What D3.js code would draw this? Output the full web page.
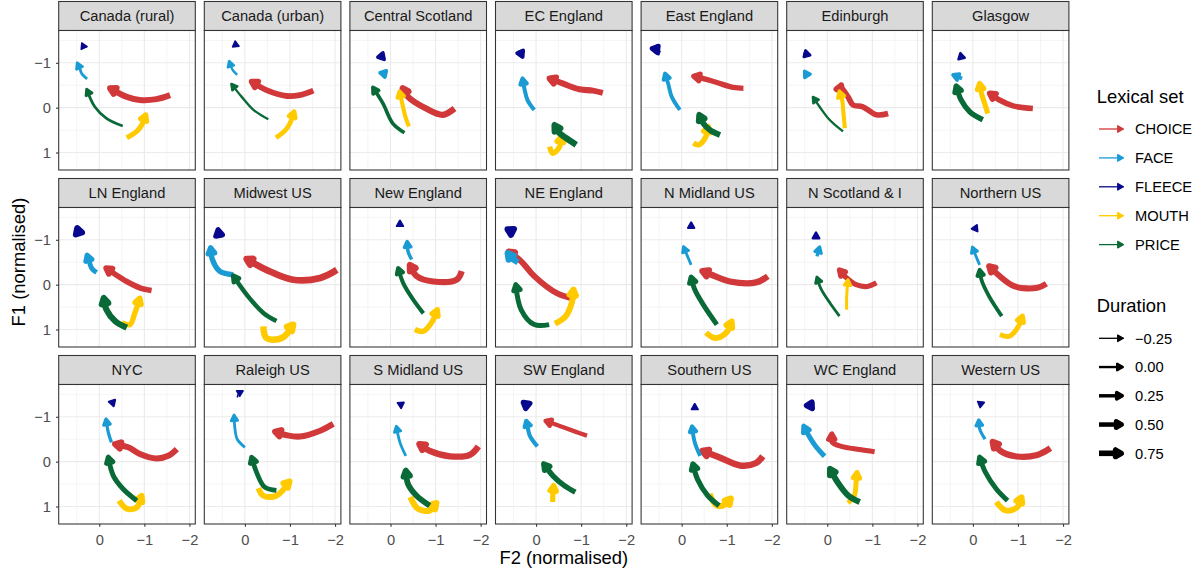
<!DOCTYPE html>
<html>
<head>
<meta charset="utf-8">
<script src="https://cdn.jsdelivr.net/npm/d3@7"></script>
<style>
    body { margin: 0; background: #fff; }
    svg { display: block; font-family: "Liberation Sans", Arial, Helvetica, sans-serif; }
</style>
</head>
<body>
<svg id="chart" width="1203" height="572"></svg>
<script>
// regions, in facet order
var regions = ["Canada (rural)", "Canada (urban)", "Central Scotland", "EC England", "East England", "Edinburgh", "Glasgow",
    "LN England", "Midwest US", "New England", "NE England", "N Midland US", "N Scotland & I", "Northern US",
    "NYC", "Raleigh US", "S Midland US", "SW England", "Southern US", "WC England", "Western US"];

var lexicalSets = ["CHOICE", "FACE", "FLEECE", "MOUTH", "PRICE"];
var durationBreaks = [-0.25, 0, 0.25, 0.5, 0.75];
var f2Ticks = [0, -1, -2];
var f1Ticks = [-1, 0, 1];

// trajectories as [F2, F1] points, start -> end, one per region
var choice = [
    [[-1.57, -0.28], [-1.27, -0.19], [-0.9, -0.17], [-0.61, -0.24], [-0.24, -0.43]],
    [[-1.52, -0.38], [-1.22, -0.28], [-0.93, -0.26], [-0.48, -0.39], [-0.15, -0.58]],
    [[-1.42, 0.02], [-1.16, 0.16], [-0.79, 0.02], [-0.39, -0.24], [-0.27, -0.43]],
    [[-1.48, -0.33], [-1.26, -0.38], [-0.96, -0.41], [-0.59, -0.54], [-0.3, -0.65]],
    [[-1.37, -0.43], [-1.15, -0.45], [-0.78, -0.56], [-0.41, -0.67], [-0.27, -0.7]],
    [[-1.35, 0.13], [-1.09, 0.16], [-0.79, -0.02], [-0.57, -0.06], [-0.46, -0.24], [-0.31, -0.43], [-0.2, -0.41]],
    [[-1.33, 0.02], [-0.89, -0.04], [-0.59, -0.17], [-0.37, -0.32]],
    [[-1.16, 0.13], [-0.9, 0.07], [-0.61, -0.07], [-0.31, -0.26], [-0.15, -0.37]],
    [[-2.04, -0.33], [-1.67, -0.15], [-1.07, -0.11], [-0.48, -0.33], [-0.04, -0.57]],
    [[-1.58, -0.3], [-1.47, -0.11], [-0.95, -0.07], [-0.58, -0.19], [-0.43, -0.44]],
    [[-0.87, 0.32], [-0.46, 0.19], [0.04, -0.19], [0.33, -0.52], [0.61, -0.74]],
    [[-1.91, -0.19], [-1.65, -0.05], [-1.07, -0.07], [-0.66, -0.22], [-0.46, -0.3]],
    [[-1.09, -0.04], [-0.89, 0.04], [-0.64, 0], [-0.43, -0.15], [-0.27, -0.33]],
    [[-1.63, -0.02], [-1.43, 0.07], [-0.93, 0.04], [-0.56, -0.22], [-0.36, -0.41]],
    [[-1.72, -0.28], [-1.53, -0.13], [-1.27, -0.07], [-0.9, -0.17], [-0.64, -0.32], [-0.35, -0.39]],
    [[-1.96, -0.84], [-1.67, -0.69], [-1.22, -0.56], [-0.93, -0.59], [-0.67, -0.67]],
    [[-1.95, -0.34], [-1.76, -0.15], [-1.32, -0.12], [-0.87, -0.24], [-0.64, -0.39]],
    [[-1.13, -0.58], [-0.87, -0.67], [-0.54, -0.79], [-0.21, -0.91]],
    [[-1.8, -0.12], [-1.65, 0.03], [-1.32, 0.09], [-0.83, -0.1], [-0.46, -0.24]],
    [[-1.05, -0.22], [-0.72, -0.27], [-0.31, -0.34], [-0.1, -0.44], [-0.1, -0.62]],
    [[-1.72, -0.3], [-1.43, -0.15], [-0.94, -0.12], [-0.61, -0.24], [-0.44, -0.44]]
];
var choiceDuration = [0.85, 0.8, 0.9, 0.85, 0.7, 0.75, 0.75, 0.75, 1.0, 0.9, 0.85, 0.9, 0.65, 0.85, 0.85, 0.85, 0.9, 0.45, 0.95, 0.6, 0.9];

var face = [
    [[0.27, -0.64], [0.39, -0.76], [0.43, -0.87], [0.49, -1.0]],
    [[0.17, -0.73], [0.27, -0.84], [0.32, -0.95], [0.35, -1.04]],
    [[0.1, -0.75], [0.23, -0.78]],
    [[0.04, 0.05], [0.19, -0.17], [0.26, -0.43], [0.3, -0.65]],
    [[0.04, 0.05], [0.22, -0.24], [0.3, -0.54], [0.37, -0.76]],
    [[0.43, -0.8], [0.5, -0.67]],
    [[0.24, -0.65], [0.44, -0.73]],
    [[0.06, -0.27], [0.17, -0.37], [0.22, -0.51], [0.27, -0.66]],
    [[0.26, -0.22], [0.56, -0.3], [0.72, -0.56], [0.76, -0.82]],
    [[-0.47, -0.56], [-0.39, -0.74], [-0.37, -0.96]],
    [[0.4, -0.5], [0.55, -0.6], [0.63, -0.7]],
    [[-0.21, -0.44], [-0.13, -0.63], [-0.04, -0.85]],
    [[0.23, -0.63], [0.17, -0.84]],
    [[-0.15, -0.44], [-0.07, -0.63], [0.01, -0.84]],
    [[-0.27, -0.43], [-0.2, -0.65], [-0.15, -0.95]],
    [[0, -0.32], [0.17, -0.5], [0.22, -0.73], [0.24, -1.04]],
    [[-0.34, -0.13], [-0.21, -0.43], [-0.13, -0.79]],
    [[-0.03, -0.34], [0.14, -0.58], [0.2, -0.84], [0.22, -0.91]],
    [[-0.41, -0.13], [-0.29, -0.43], [-0.23, -0.79]],
    [[0.06, -0.12], [0.27, -0.36], [0.45, -0.65], [0.52, -0.79]],
    [[-0.27, -0.5], [-0.15, -0.73], [-0.13, -0.93]]
];
var faceDuration = [0.1, 0.0, 0.3, 0.4, 0.35, 0.2, 0.3, 0.6, 0.7, 0.25, 0.9, 0.1, 0.2, 0.1, 0.2, 0.1, 0.1, 0.4, 0.35, 0.6, 0.2];

var fleece = [
    [[0.39, -1.37], [0.27, -1.36]],
    [[0.22, -1.41], [0.13, -1.37]],
    [[0.21, -1.1], [0.17, -1.22]],
    [[0.37, -1.28], [0.3, -1.13]],
    [[0.48, -1.21], [0.59, -1.28], [0.52, -1.37]],
    [[0.53, -1.21], [0.38, -1.17]],
    [[0.31, -1.15], [0.18, -1.11]],
    [[0.44, -1.11], [0.49, -1.26]],
    [[0.64, -1.16], [0.5, -1.11]],
    [[-0.21, -1.33], [-0.21, -1.43]],
    [[0.63, -1.15], [0.49, -1.24]],
    [[-0.21, -1.28], [-0.21, -1.39]],
    [[0.25, -1.05], [0.25, -1.16]],
    [[-0.04, -1.22], [-0.09, -1.33]],
    [[-0.27, -1.29], [-0.35, -1.38]],
    [[0.17, -1.43], [0.13, -1.53], [0.04, -1.58]],
    [[-0.24, -1.19], [-0.24, -1.28], [-0.3, -1.32]],
    [[0.24, -1.26], [0.14, -1.3]],
    [[-0.29, -1.19], [-0.29, -1.29]],
    [[0.39, -1.23], [0.34, -1.33]],
    [[-0.15, -1.28], [-0.25, -1.32]]
];
var fleeceDuration = [-0.2, -0.2, 0.3, 0.35, 0.6, 0.1, 0.0, 0.85, 0.7, -0.1, 0.85, -0.1, 0.0, -0.1, -0.05, -0.2, -0.15, 0.7, -0.15, 0.7, -0.15];

var mouth = [
    [[-0.61, 0.67], [-0.83, 0.53], [-0.94, 0.39], [-1.03, 0.16]],
    [[-0.69, 0.67], [-0.89, 0.51], [-1.0, 0.35], [-1.09, 0.09]],
    [[-0.41, 0.42], [-0.33, 0.2], [-0.26, -0.1], [-0.2, -0.36]],
    [[-0.3, 0.87], [-0.37, 1.02], [-0.52, 0.87], [-0.56, 0.64]],
    [[-0.26, 0.79], [-0.37, 0.83], [-0.52, 0.68], [-0.59, 0.42]],
    [[-0.39, 0.46], [-0.36, 0.13], [-0.33, -0.17], [-0.27, -0.36]],
    [[-0.33, 0.13], [-0.26, -0.1], [-0.19, -0.32], [-0.15, -0.54]],
    [[-0.5, 0.85], [-0.68, 0.89], [-0.79, 0.63], [-0.9, 0.3]],
    [[-0.41, 0.93], [-0.48, 1.19], [-0.82, 1.19], [-1.07, 0.89]],
    [[-0.54, 1.0], [-0.73, 1.04], [-0.91, 0.85], [-1.04, 0.56]],
    [[-0.42, 0.87], [-0.66, 0.7], [-0.79, 0.41], [-0.83, 0.11]],
    [[-0.54, 1.07], [-0.74, 1.19], [-0.99, 1.07], [-1.11, 0.82]],
    [[-0.43, 0.56], [-0.43, 0.26], [-0.46, -0.11]],
    [[-0.6, 1.11], [-0.81, 1.15], [-1.01, 0.93], [-1.1, 0.7]],
    [[-0.44, 0.87], [-0.61, 1.05], [-0.83, 1.02], [-0.94, 0.76]],
    [[-0.3, 0.59], [-0.41, 0.76], [-0.7, 0.76], [-0.99, 0.44]],
    [[-0.44, 0.79], [-0.61, 1.05], [-0.87, 1.09], [-1.02, 0.92]],
    [[-0.37, 0.9], [-0.37, 0.76], [-0.39, 0.53]],
    [[-0.62, 0.72], [-0.78, 0.98], [-0.99, 0.94], [-1.09, 0.82]],
    [[-0.46, 0.92], [-0.6, 0.76], [-0.64, 0.46], [-0.66, 0.24]],
    [[-0.52, 0.9], [-0.73, 1.09], [-0.98, 1.02], [-1.08, 0.79]]
];
var mouthDuration = [0.65, 0.55, 0.4, 0.7, 0.7, 0.4, 0.65, 0.7, 0.95, 0.7, 0.85, 0.8, 0.15, 0.6, 0.8, 0.8, 0.85, 0.65, 0.85, 0.6, 0.8];

var price = [
    [[-0.52, 0.41], [-0.16, 0.24], [0.1, -0.02], [0.28, -0.41]],
    [[-0.52, 0.26], [-0.19, 0.05], [0.07, -0.24], [0.3, -0.53]],
    [[-0.31, 0.56], [-0.05, 0.35], [0.17, -0.1], [0.39, -0.45]],
    [[-0.89, 0.83], [-0.67, 0.68], [-0.52, 0.57], [-0.41, 0.39]],
    [[-0.85, 0.61], [-0.63, 0.5], [-0.48, 0.35], [-0.39, 0.16]],
    [[-0.35, 0.53], [-0.05, 0.27], [0.17, -0.02], [0.32, -0.24]],
    [[-0.22, 0.27], [0.07, 0.09], [0.26, -0.17], [0.37, -0.48]],
    [[-0.61, 0.96], [-0.35, 0.81], [-0.16, 0.56], [-0.1, 0.3]],
    [[-0.7, 0.81], [-0.41, 0.63], [-0.07, 0.26], [0.26, -0.2]],
    [[-0.73, 0.64], [-0.5, 0.33], [-0.28, -0.04], [-0.17, -0.37]],
    [[-0.29, 0.89], [0.04, 0.89], [0.33, 0.56], [0.45, 0]],
    [[-0.78, 0.89], [-0.5, 0.48], [-0.29, 0.11], [-0.21, -0.17]],
    [[-0.27, 0.7], [-0.06, 0.41], [0.15, 0.07], [0.23, -0.17]],
    [[-0.64, 0.7], [-0.36, 0.26], [-0.19, -0.11], [-0.15, -0.33]],
    [[-0.83, 0.87], [-0.53, 0.61], [-0.31, 0.31], [-0.2, -0.1]],
    [[-0.7, 0.64], [-0.44, 0.57], [-0.26, 0.24], [-0.15, -0.1]],
    [[-0.87, 0.98], [-0.58, 0.76], [-0.39, 0.5], [-0.34, 0.2]],
    [[-0.87, 0.68], [-0.62, 0.53], [-0.37, 0.31], [-0.17, 0.05]],
    [[-0.83, 0.98], [-0.58, 0.76], [-0.35, 0.39], [-0.25, 0.05]],
    [[-0.72, 0.9], [-0.47, 0.76], [-0.23, 0.46], [-0.06, 0.16]],
    [[-0.77, 0.87], [-0.52, 0.61], [-0.28, 0.24], [-0.15, -0.1]]
];
var priceDuration = [0.1, 0.0, 0.3, 0.9, 0.8, 0.0, 0.7, 0.9, 0.5, 0.4, 0.6, 0.6, 0.1, 0.35, 0.6, 0.55, 0.8, 0.7, 0.65, 0.85, 0.6];

(function() {
    var PANEL_W = 136.6;
    var PANEL_H = 139.5;
    var STRIP_H = 29;
    var LEFT = 58.7;
    var COL_STEP = 145.6;
    var TOP = 1.5;
    var ROW_STEP = 177;
    var NCOL = 7;
    var HEAD = 6.5;
    var BORDER = "#333333";

    var svg = d3.select("#chart");

    var x = d3.scaleLinear().domain([0.9, -2.13]).range([0, PANEL_W]);
    var y = d3.scaleLinear().domain([-1.72, 1.39]).range([0, PANEL_H]);
    var lineWidth = d3.scaleLinear().domain([-0.25, 0.75]).range([1.3, 5.6]);
    var colour = d3.scaleOrdinal()
        .domain(lexicalSets)
        .range(["#D0383A", "#1A9BD4", "#08088F", "#FFCA00", "#0A6A37"]);

    var tracks = { CHOICE: choice, FACE: face, FLEECE: fleece, MOUTH: mouth, PRICE: price };
    var durations = { CHOICE: choiceDuration, FACE: faceDuration, FLEECE: fleeceDuration, MOUTH: mouthDuration, PRICE: priceDuration };

    var line = d3.line()
        .x(function(d) { return x(d[0]); })
        .y(function(d) { return y(d[1]); })
        .curve(d3.curveCatmullRom.alpha(0.5));

    // closed arrow head with its tip at (tx, ty), pointing along (dx, dy)
    function headPath(tx, ty, dx, dy, len) {
        var l = Math.sqrt(dx * dx + dy * dy) || 1;
        var ux = dx / l, uy = dy / l;
        var pts = [[tx, ty]];
        [Math.PI / 6, -Math.PI / 6].forEach(function(a) {
            var c = Math.cos(a), s = Math.sin(a);
            pts.push([tx - (ux * c - uy * s) * len, ty - (ux * s + uy * c) * len]);
        });
        return "M" + pts.map(function(p) { return p[0].toFixed(2) + "," + p[1].toFixed(2); }).join("L") + "Z";
    }

    function drawArrow(g, d, col, w) {
        g.append("path")
            .attr("d", line(d))
            .attr("fill", "none")
            .attr("stroke", col)
            .attr("stroke-width", w)
            .attr("stroke-linejoin", "round")
            .attr("stroke-linecap", "butt");
        var a = d[d.length - 2], b = d[d.length - 1];
        g.append("path")
            .attr("d", headPath(x(b[0]), y(b[1]), x(b[0]) - x(a[0]), y(b[1]) - y(a[1]), HEAD))
            .attr("fill", col)
            .attr("stroke", col)
            .attr("stroke-width", w)
            .attr("stroke-linejoin", "round");
    }

    function styleAxis(a) {
        a.select(".domain").remove();
        a.selectAll(".tick line").attr("stroke", BORDER).attr("stroke-width", 1.07);
        a.selectAll(".tick text")
            .attr("fill", "#4D4D4D")
            .attr("font-size", 14.7)
            .attr("font-family", "Liberation Sans, Arial, sans-serif");
    }

    regions.forEach(function(region, i) {
        var col = i % NCOL, row = Math.floor(i / NCOL);
        var px = LEFT + col * COL_STEP;
        var stripTop = TOP + row * ROW_STEP;
        var py = stripTop + STRIP_H;

        // strip
        svg.append("rect")
            .attr("x", px).attr("y", stripTop)
            .attr("width", PANEL_W).attr("height", STRIP_H)
            .attr("fill", "#D9D9D9")
            .attr("stroke", BORDER).attr("stroke-width", 1.07);
        svg.append("text")
            .attr("x", px + PANEL_W / 2)
            .attr("y", stripTop + STRIP_H / 2 + 5.2)
            .attr("text-anchor", "middle")
            .attr("fill", "#1A1A1A")
            .attr("font-size", 14.7)
            .text(region);

        var g = svg.append("g").attr("transform", "translate(" + px + "," + py + ")");

        g.append("rect")
            .attr("width", PANEL_W).attr("height", PANEL_H)
            .attr("fill", "#fff");

        // grid
        var minorX = [0.5, -0.5, -1.5], minorY = [-1.5, -0.5, 0.5];
        g.selectAll(".minor-x").data(minorX).enter().append("line")
            .attr("x1", x).attr("x2", x).attr("y1", 0).attr("y2", PANEL_H)
            .attr("stroke", "#EBEBEB").attr("stroke-width", 0.55);
        g.selectAll(".minor-y").data(minorY).enter().append("line")
            .attr("y1", y).attr("y2", y).attr("x1", 0).attr("x2", PANEL_W)
            .attr("stroke", "#EBEBEB").attr("stroke-width", 0.55);
        g.selectAll(".major-x").data(f2Ticks).enter().append("line")
            .attr("x1", x).attr("x2", x).attr("y1", 0).attr("y2", PANEL_H)
            .attr("stroke", "#EBEBEB").attr("stroke-width", 1.1);
        g.selectAll(".major-y").data(f1Ticks).enter().append("line")
            .attr("y1", y).attr("y2", y).attr("x1", 0).attr("x2", PANEL_W)
            .attr("stroke", "#EBEBEB").attr("stroke-width", 1.1);

        // trajectories
        lexicalSets.forEach(function(set) {
            drawArrow(g, tracks[set][i], colour(set), lineWidth(durations[set][i]));
        });

        g.append("rect")
            .attr("width", PANEL_W).attr("height", PANEL_H)
            .attr("fill", "none")
            .attr("stroke", BORDER).attr("stroke-width", 1.07);

        if (col === 0) {
            var ya = g.append("g").call(d3.axisLeft(y).tickValues(f1Ticks)
                .tickFormat(d3.format("d")).tickSize(2.7).tickPadding(5));
            styleAxis(ya);
        }
        if (row === 2) {
            var xa = g.append("g")
                .attr("transform", "translate(0," + PANEL_H + ")")
                .call(d3.axisBottom(x).tickValues(f2Ticks)
                    .tickFormat(d3.format("d")).tickSize(2.7).tickPadding(8.3));
            styleAxis(xa);
        }
    });

    // axis titles
    svg.append("text")
        .attr("x", LEFT + (NCOL * COL_STEP - (COL_STEP - PANEL_W)) / 2)
        .attr("y", 563.5)
        .attr("text-anchor", "middle")
        .attr("font-size", 18.4)
        .text("F2 (normalised)");
    svg.append("text")
        .attr("transform", "translate(25," + (TOP + (2 * ROW_STEP + STRIP_H + PANEL_H)) / 2 + ") rotate(-90)")
        .attr("text-anchor", "middle")
        .attr("font-size", 18.4)
        .text("F1 (normalised)");

    // legends
    var legend = svg.append("g");

    function legendArrow(ly, col, w) {
        var x1 = 1099, x2 = 1124 - w / 2;
        legend.append("line")
            .attr("x1", x1).attr("x2", x2).attr("y1", ly).attr("y2", ly)
            .attr("stroke", col).attr("stroke-width", w);
        legend.append("path")
            .attr("d", headPath(x2, ly, 1, 0, HEAD))
            .attr("fill", col)
            .attr("stroke", col)
            .attr("stroke-width", w)
            .attr("stroke-linejoin", "round");
    }

    legend.append("text")
        .attr("x", 1096.7).attr("y", 103.3)
        .attr("font-size", 18.4)
        .text("Lexical set");
    lexicalSets.forEach(function(set, k) {
        var ly = 129 + k * 28.9;
        legendArrow(ly, colour(set), 1.3);
        legend.append("text")
            .attr("x", 1135).attr("y", ly + 5.2)
            .attr("font-size", 14.7)
            .text(set);
    });

    legend.append("text")
        .attr("x", 1096.7).attr("y", 311.7)
        .attr("font-size", 18.4)
        .text("Duration");
    durationBreaks.forEach(function(v, k) {
        var ly = 338.3 + k * 28.75;
        legendArrow(ly, "#000", lineWidth(v));
        legend.append("text")
            .attr("x", 1135).attr("y", ly + 5.2)
            .attr("font-size", 14.7)
            .text(d3.format(".2f")(v));
    });
})();
</script>
</body>
</html>
